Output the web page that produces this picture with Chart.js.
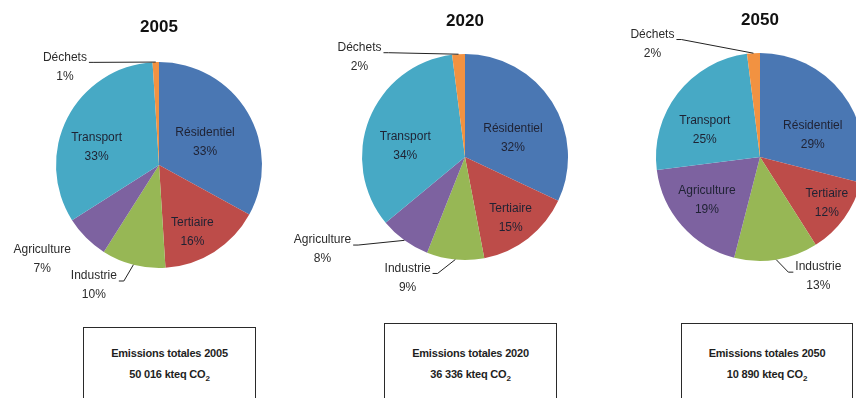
<!DOCTYPE html>
<html>
<head>
<meta charset="utf-8">
<script src="https://cdn.jsdelivr.net/npm/chart.js@4.4.1/dist/chart.umd.min.js"></script>
<style>
  html, body { margin: 0; padding: 0; background: #fff; }
  body { width: 856px; height: 398px; overflow: hidden; position: relative; }
  .pie { position: absolute; top: 0; height: 310px; }
  .box {
    position: absolute; height: 100px; box-sizing: border-box;
    border: 1px solid #2a2a2a; text-align: center; color: #1e1e1e;
    font: bold 11px "Liberation Sans", Arial, sans-serif;
    line-height: 21px; letter-spacing: -0.2px;
  }
  .box sub { font-size: 8px; line-height: 0; }
</style>
</head>
<body>
<div class="pie" style="left:0;width:300px"><canvas id="pie2005"></canvas></div>
<div class="pie" style="left:280px;width:300px"><canvas id="pie2020"></canvas></div>
<div class="pie" style="left:590px;width:285px"><canvas id="pie2050"></canvas></div>

<div class="box" id="box0" style="left:83px;top:327px;width:173px;padding-top:14.5px"></div>
<div class="box" id="box1" style="left:384px;top:323px;width:173px;padding-top:18.5px"></div>
<div class="box" id="box2" style="left:681px;top:323px;width:172px;padding-top:18.5px"></div>

<script>
// Data
const years = ['2005', '2020', '2050'];
const sectors = ['Résidentiel', 'Tertiaire', 'Industrie', 'Agriculture', 'Transport', 'Déchets'];
const shares2005 = [33, 16, 10, 7, 33, 1];
const shares2020 = [32, 15, 9, 8, 34, 2];
const shares2050 = [29, 12, 13, 19, 25, 2];
const totals = ['50 016', '36 336', '10 890'];

const sectorColors = ['#4a77b3', '#bd4c49', '#97b755', '#7d62a0', '#47a9c5', '#f29241'];

// label placement: [angle shift in degrees, distance as share of radius]
const labelPos = [
  [[4, 0.50], [6, 0.73], [14, 1.33], [6, 1.46], [-11, 0.63], [-42, 1.32]],
  [[11, 0.50], [1, 0.74], [20, 1.30], [21, 1.65], [-11, 0.59], [-43, 1.41]],
  [[15, 0.55], [-1.5, 0.78], [-17, 1.28], [2, 0.66], [-12, 0.59], [-40, 1.50]],
];
// leader lines: which side of the label the line leaves from
const leaders = [
  [null, null, 'right', null, null, 'right'],
  [null, null, 'right', 'right', null, 'right'],
  [null, null, 'left', null, null, 'right'],
];

const labelFont = '12px "Liberation Sans", Arial, sans-serif';

// draws the "name / xx%" labels and the leader lines
const sliceLabels = (pos, lines) => ({
  id: 'sliceLabels',
  afterDatasetsDraw(chart) {
    const ctx = chart.ctx;
    const meta = chart.getDatasetMeta(0);
    const values = chart.data.datasets[0].data;
    ctx.save();
    ctx.font = labelFont;
    ctx.textAlign = 'center';
    ctx.textBaseline = 'middle';
    meta.data.forEach((arc, i) => {
      const { x, y, startAngle, endAngle, outerRadius } =
        arc.getProps(['x', 'y', 'startAngle', 'endAngle', 'outerRadius'], true);
      const mid = (startAngle + endAngle) / 2;
      const [shift, dist] = pos[i];
      const a = mid + shift * Math.PI / 180;
      const lx = x + Math.cos(a) * outerRadius * dist;
      const ly = y + Math.sin(a) * outerRadius * dist;
      const name = chart.data.labels[i];
      ctx.fillStyle = dist > 1 ? '#2b2b2b' : '#1f2233';
      ctx.fillText(name, lx, ly - 9.5);
      ctx.fillText(values[i] + '%', lx, ly + 9.5);

      const side = lines[i];
      if (side) {
        const dir = side === 'right' ? 1 : -1;
        const w = ctx.measureText(name).width;
        const sx = lx + dir * (w / 2 + 2);
        const sy = ly - 9.5 + 5;
        ctx.beginPath();
        ctx.moveTo(sx, sy);
        ctx.lineTo(sx + dir * 5, sy);
        ctx.lineTo(x + Math.cos(mid) * outerRadius, y + Math.sin(mid) * outerRadius);
        ctx.strokeStyle = '#222';
        ctx.lineWidth = 1;
        ctx.stroke();
      }
    });
    ctx.restore();
  }
});

const drawPie = (id, k, values, pad, titlePad) => {
  new Chart(document.getElementById(id), {
    type: 'pie',
    data: {
      labels: sectors,
      datasets: [{
        data: values,
        backgroundColor: sectorColors,
        borderWidth: 0,
        hoverOffset: 0,
        hoverBorderWidth: 0,
      }],
    },
    options: {
      responsive: true,
      maintainAspectRatio: false,
      animation: false,
      events: [],
      layout: { padding: pad },
      plugins: {
        legend: { display: false },
        tooltip: { enabled: false },
        title: {
          display: true,
          text: years[k],
          color: '#111',
          font: { size: 17, weight: 'bold', family: '"Liberation Sans", Arial, sans-serif', lineHeight: 1.2 },
          padding: titlePad,
        },
      },
    },
    plugins: [sliceLabels(labelPos[k], leaders[k])],
  });
};

drawPie('pie2005', 0, shares2005, { left: 56, right: 38, top: 16.8, bottom: 42 }, { top: 0, bottom: 24.8 });
drawPie('pie2020', 1, shares2020, { left: 82, right: 12, top: 11.5, bottom: 50 }, { top: 0, bottom: 22.1 });
drawPie('pie2050', 2, shares2050, { left: 66, right: 11, top: 9.8, bottom: 49 }, { top: 0, bottom: 22.8 });

// totals boxes
years.forEach((yr, k) => {
  document.getElementById('box' + k).innerHTML =
    'Emissions totales ' + yr + '<br>' + totals[k] + ' kteq CO<sub>2</sub>';
});
</script>
</body>
</html>
